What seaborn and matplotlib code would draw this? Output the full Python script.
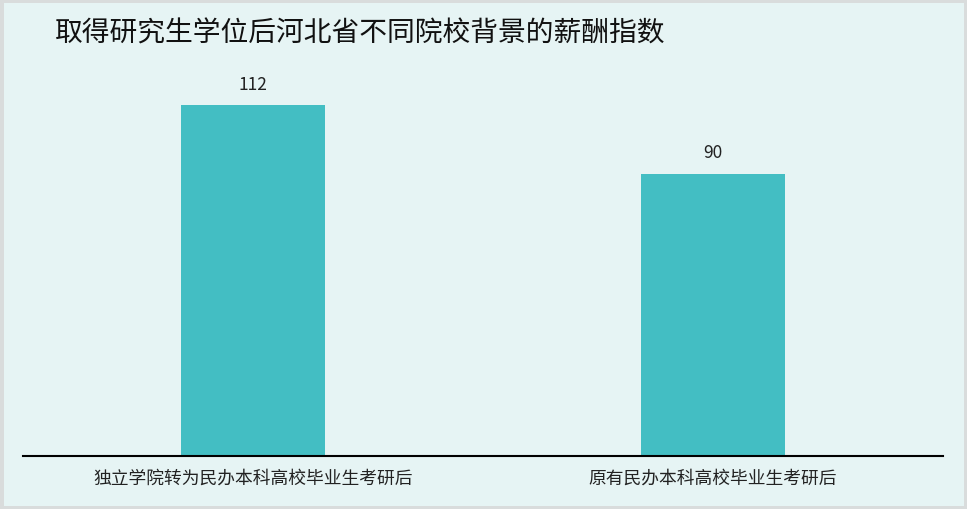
import matplotlib
matplotlib.use('Agg')
import matplotlib.pyplot as plt
import seaborn as sns
from matplotlib.patches import Rectangle

# --- Dados ---
categories = ['独立学院转为民办本科高校毕业生考研后', '原有民办本科高校毕业生考研后']
values = [112, 90]
title = '取得研究生学位后河北省不同院校背景的薪酬指数'

BG = '#e6f4f4'
BAR = '#43bec3'

sns.set_theme(style='white')
plt.rcParams['font.family'] = ['Noto Sans CJK SC', 'DejaVu Sans']

fig = plt.figure(figsize=(9.67, 5.10), dpi=100, facecolor=BG)
ax = fig.add_axes([23 / 967, 53 / 510, 920 / 967, 387 / 510])
ax.set_facecolor(BG)

sns.barplot(x=categories, y=values, color=BAR, width=0.313, saturation=1,
            linewidth=0, ax=ax)
ax.set_xlim(-0.5, 1.5)
ax.set_ylim(0, 123.5)

ax.bar_label(ax.containers[0], labels=[str(v) for v in values], padding=9,
             fontsize=12.5, color='#222222')

for s in ['top', 'right', 'left']:
    ax.spines[s].set_visible(False)
ax.spines['bottom'].set_color('black')
ax.spines['bottom'].set_linewidth(1.5)
ax.set_yticks([])
ax.set_xlabel('')
ax.set_ylabel('')
ax.tick_params(axis='x', length=0, pad=9, labelsize=12.8, labelcolor='#222222')

fig.text(55 / 967, 1 - 34 / 510, title, fontsize=20, va='center', ha='left', color='#111111')

# moldura cinza
fig.patches.append(Rectangle((0, 0), 1, 1, transform=fig.transFigure, fill=False,
                             edgecolor='#d9dcdc', linewidth=5, zorder=10))

fig.savefig('out.png', dpi=100, facecolor=BG)
